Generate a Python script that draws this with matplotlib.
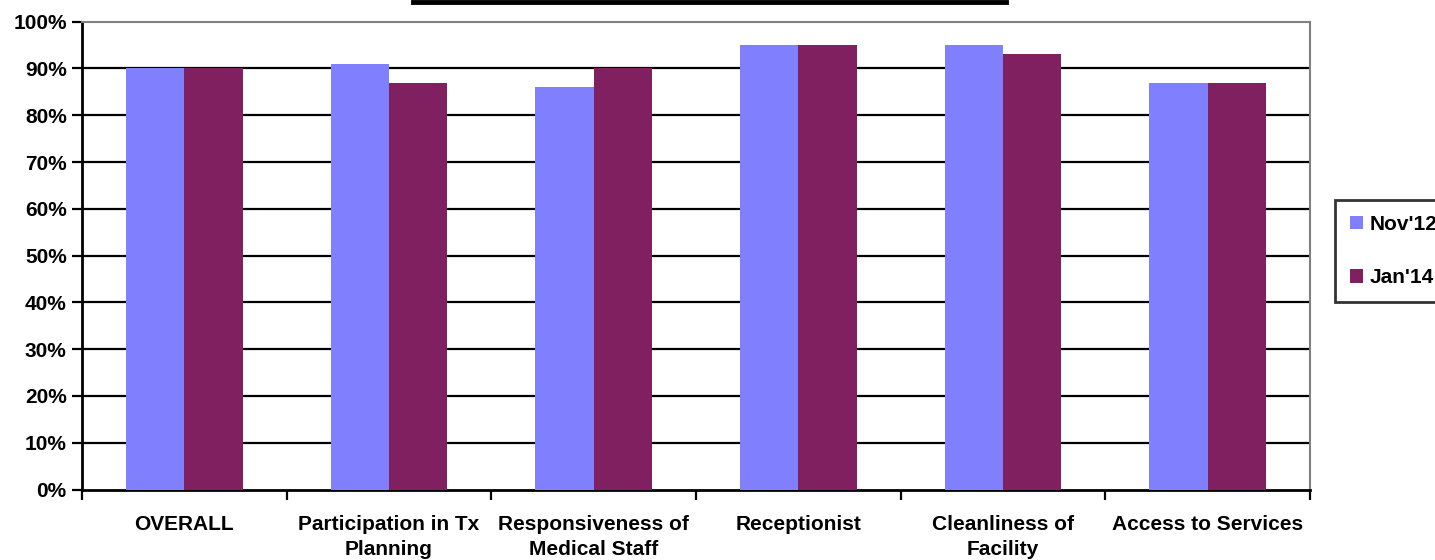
import matplotlib
matplotlib.use("Agg")
import matplotlib.pyplot as plt
import numpy as np
from matplotlib.lines import Line2D
from matplotlib.patches import Patch

categories = ["OVERALL", "Participation in Tx\nPlanning", "Responsiveness of\nMedical Staff",
              "Receptionist", "Cleanliness of\nFacility", "Access to Services"]
series_names = ["Nov'12", "Jan'14"]
nov12 = [90, 91, 86, 95, 95, 87]
jan14 = [90, 87, 90, 95, 93, 87]
yticks = list(range(0, 101, 10))
ytick_labels = [f"{v}%" for v in yticks]

colors = ["#8080FF", "#802060"]

plt.rcParams["font.family"] = ["Liberation Sans", "DejaVu Sans"]
plt.rcParams["font.weight"] = "bold"

W, H = 1435, 560
fig = plt.figure(figsize=(W / 100, H / 100), dpi=100)
ax = fig.add_axes([82 / W, (H - 489.5) / H, (1310 - 82) / W, (489.5 - 21.7) / H])

x = np.arange(len(categories))
bw = 1 / 3.5
ax.bar(x - bw / 2, nov12, width=bw, color=colors[0], zorder=3, label=series_names[0])
ax.bar(x + bw / 2, jan14, width=bw, color=colors[1], zorder=3, label=series_names[1])

ax.set_xlim(-0.5, len(categories) - 0.5)
ax.set_ylim(0, 100)

# horizontal gridlines (the 100% line is the plot-area border)
for v in yticks[1:-1]:
    ax.axhline(v, color="black", lw=1.6, zorder=1)

ax.set_yticks(yticks)
ax.set_yticklabels(ytick_labels, fontsize=15, fontweight="bold")
ax.tick_params(axis="y", direction="out", length=7, width=1.6, pad=4, color="black")

# category labels centred, ticks on the category boundaries
ax.set_xticks(x)
ax.set_xticklabels(categories, fontsize=15, fontweight="bold", linespacing=1.45)
ax.tick_params(axis="x", which="major", length=0, pad=18)
ax.set_xticks(np.arange(-0.5, len(categories) + 0.5, 1), minor=True)
ax.tick_params(axis="x", which="minor", direction="out", length=7, width=1.6, color="black")

for side in ("left", "bottom"):
    ax.spines[side].set_color("black")
    ax.spines[side].set_linewidth(2)
for side in ("top", "right"):
    ax.spines[side].set_color("#808080")
    ax.spines[side].set_linewidth(1.5)

handles = [Patch(facecolor=c, edgecolor="none") for c in colors]
leg = ax.legend(handles, series_names, loc="upper left",
                bbox_to_anchor=(1335 / W, 1 - 200 / H), bbox_transform=fig.transFigure,
                fontsize=15, frameon=True, fancybox=False, handlelength=0.6,
                handleheight=0.6, handletextpad=0.35, labelspacing=1.65,
                borderpad=0.72, borderaxespad=0)
leg.get_frame().set_edgecolor("black")
leg.get_frame().set_linewidth(2)
for t in leg.get_texts():
    t.set_fontweight("bold")

# bottom edge of the title frame above the plot
fig.add_artist(Line2D([413 / W, 1006 / W], [1 - 2 / H, 1 - 2 / H],
                      transform=fig.transFigure, color="black", lw=3.5))

fig.savefig("out.png", dpi=100, facecolor="white")
